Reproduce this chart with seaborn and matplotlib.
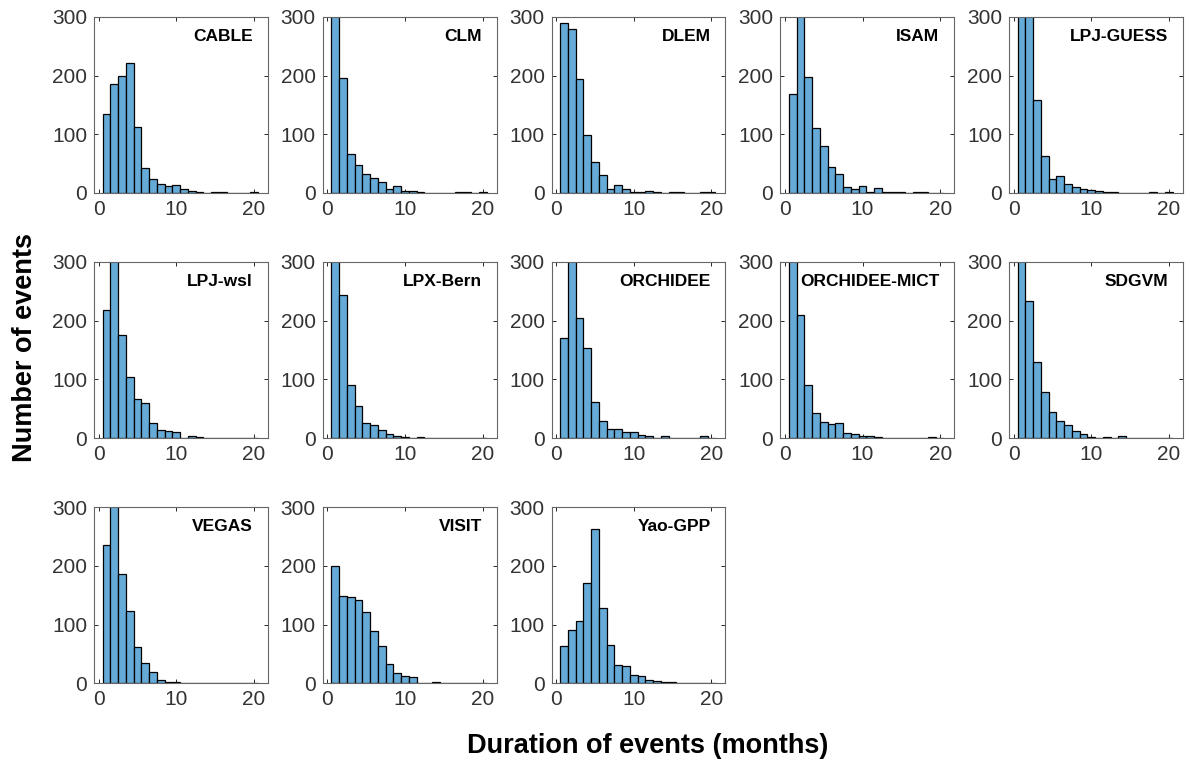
import numpy as np
import pandas as pd
import seaborn as sns
import matplotlib
matplotlib.use('Agg')
import matplotlib.pyplot as plt

sns.set_style('ticks')
plt.rcParams['font.family'] = ['Liberation Sans', 'DejaVu Sans']

# event duration (months), one bin per month
duration = list(range(1, 21))

# counts per bin (first bars above 300 are clipped, values guessed)
cable = [135, 186, 200, 221, 112, 43, 23, 16, 12, 14, 7, 4, 1, 0, 1, 1, 0, 0, 0, 1]
clm = [420, 196, 67, 47, 32, 26, 18, 7, 12, 3, 4, 2, 0, 0, 0, 0, 1, 1, 0, 1]
dlem = [290, 280, 194, 99, 53, 30, 7, 14, 7, 2, 1, 3, 1, 0, 1, 1, 0, 0, 1, 1]
isam = [168, 330, 197, 111, 80, 44, 32, 10, 6, 11, 1, 9, 2, 1, 1, 0, 1, 1, 0, 0]
lpj_guess = [400, 340, 158, 63, 23, 29, 15, 10, 7, 5, 3, 1, 1, 0, 0, 0, 0, 1, 0, 1]
lpj_wsl = [219, 310, 175, 104, 66, 59, 25, 14, 12, 10, 1, 3, 2, 1, 1, 1, 0, 0, 0, 0]
lpx_bern = [420, 244, 91, 54, 25, 23, 14, 7, 4, 2, 1, 2, 0, 1, 0, 0, 0, 0, 0, 0]
orchidee = [171, 320, 204, 154, 62, 30, 15, 16, 11, 10, 5, 3, 0, 4, 0, 1, 1, 1, 3, 0]
orchidee_mict = [420, 210, 90, 42, 28, 24, 26, 9, 7, 4, 3, 2, 0, 1, 0, 1, 1, 1, 2, 1]
sdgvm = [380, 234, 130, 78, 44, 30, 23, 12, 7, 2, 1, 2, 0, 4, 0, 0, 0, 0, 0, 0]
vegas = [235, 310, 187, 124, 62, 35, 19, 5, 3, 3, 1, 0, 0, 0, 1, 0, 1, 0, 0, 0]
visit = [199, 148, 147, 142, 122, 89, 64, 33, 17, 12, 11, 1, 1, 2, 1, 1, 0, 1, 0, 0]
yao_gpp = [63, 91, 106, 171, 263, 128, 66, 32, 29, 15, 12, 6, 4, 2, 3, 1, 1, 1, 0, 1]

models = ['CABLE', 'CLM', 'DLEM', 'ISAM', 'LPJ-GUESS',
          'LPJ-wsl', 'LPX-Bern', 'ORCHIDEE', 'ORCHIDEE-MICT', 'SDGVM',
          'VEGAS', 'VISIT', 'Yao-GPP']
counts = [cable, clm, dlem, isam, lpj_guess,
          lpj_wsl, lpx_bern, orchidee, orchidee_mict, sdgvm,
          vegas, visit, yao_gpp]

bar_color = '#66AAD7'

fig, axes = plt.subplots(3, 5, figsize=(11.9, 7.64), dpi=100)
fig.subplots_adjust(left=0.079, right=0.994, top=0.978, bottom=0.1056,
                    wspace=0.316, hspace=0.392)

for i, ax in enumerate(axes.flat):
    if i >= len(models):
        ax.axis('off')
        continue
    df = pd.DataFrame({'duration': duration, 'n': counts[i]})
    sns.histplot(data=df, x='duration', weights='n', discrete=True,
                 color=bar_color, alpha=1, edgecolor='black', linewidth=0.9,
                 ax=ax)
    ax.set_xlim(-0.6, 21.8)
    ax.set_ylim(0, 300)
    ax.set_xticks([0, 10, 20])
    ax.set_yticks([0, 100, 200, 300])
    ax.set_xlabel('')
    ax.set_ylabel('')
    ax.tick_params(direction='in', length=3, width=0.7, top=True, right=True,
                   labelsize=15, colors='#262626', labelcolor='#333333', pad=5)
    for sp in ax.spines.values():
        sp.set_visible(True)
        sp.set_color('#666666')
        sp.set_linewidth(0.8)
    ax.text(0.915, 0.89, models[i], transform=ax.transAxes, ha='right',
            va='center', fontsize=12.5, fontweight='bold', color='black')

fig.text(0.021, 0.545, 'Number of events', rotation=90, ha='center',
         va='center', fontsize=19.5, fontweight='bold', color='black')
fig.text(0.544, 0.024, 'Duration of events (months)', ha='center',
         va='center', fontsize=19.5, fontweight='bold', color='black')

plt.savefig('out.png', dpi=100)
plt.close()
